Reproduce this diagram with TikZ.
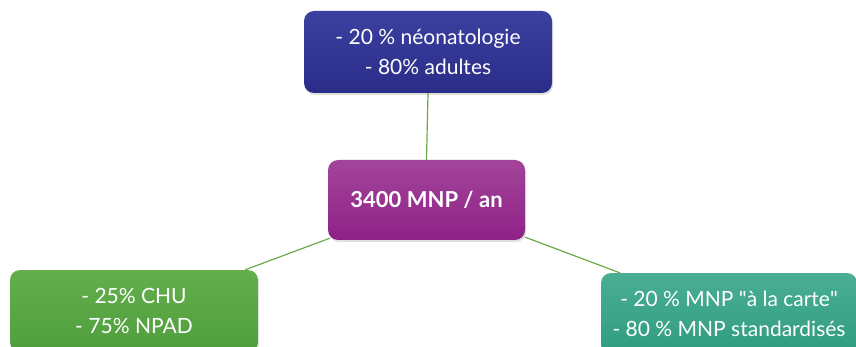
\documentclass[tikz,border=0pt]{standalone}
\usepackage{fontspec}
\setmainfont{Lato}
\usetikzlibrary{shadows}
\pgfdeclarelayer{background}
\pgfsetlayers{background,main}
\definecolor{linkgreen}{HTML}{6DAA45}
\definecolor{blueA}{HTML}{3B40A0}
\definecolor{blueB}{HTML}{2A2C88}
\definecolor{purpA}{HTML}{A3449A}
\definecolor{purpB}{HTML}{8E2287}
\definecolor{greenA}{HTML}{64AE4C}
\definecolor{greenB}{HTML}{4F9E3E}
\definecolor{tealA}{HTML}{4AAE94}
\definecolor{tealB}{HTML}{2F9C80}
\tikzset{
  box/.style={rectangle, rounded corners=10pt, text=white, align=center,
    font=\fontsize{21}{30}\selectfont, inner sep=0pt,
    drop shadow={shadow xshift=1pt, shadow yshift=-2pt, opacity=0.25}},
  link/.style={draw=linkgreen, line width=1.2pt}
}
\begin{document}
\begin{tikzpicture}[x=1pt,y=-1pt]
\useasboundingbox (0,0) rectangle (856,347);
\node[box, top color=blueA, bottom color=blueB, minimum width=248pt, minimum height=82pt]
  (top) at (428,52) {- 20 \% néonatologie\\- 80\% adultes};
\node[box, top color=purpA, bottom color=purpB, minimum width=197pt, minimum height=80pt,
  font=\fontsize{22}{26}\selectfont\bfseries]
  (mid) at (426.5,200) {3400 MNP / an};
\node[box, top color=greenA, bottom color=greenB, minimum width=248pt, minimum height=82pt]
  (left) at (134,311) {- 25\% CHU\\- 75\% NPAD};
\node[box, top color=tealA, bottom color=tealB, minimum width=256pt, minimum height=82pt]
  (right) at (729,314) {- 20 \% MNP \textquotedbl à la carte\textquotedbl\\- 80 \% MNP standardisés};
\begin{pgfonlayer}{background}
\draw[link] (mid.north) -- (top.south);
\draw[link] ([xshift=2pt,yshift=2pt]mid.south west) -- ([xshift=-13pt]left.north east);
\draw[link] ([yshift=3pt]mid.south east) -- ([xshift=19pt]right.north west);
\end{pgfonlayer}
\end{tikzpicture}
\end{document}
